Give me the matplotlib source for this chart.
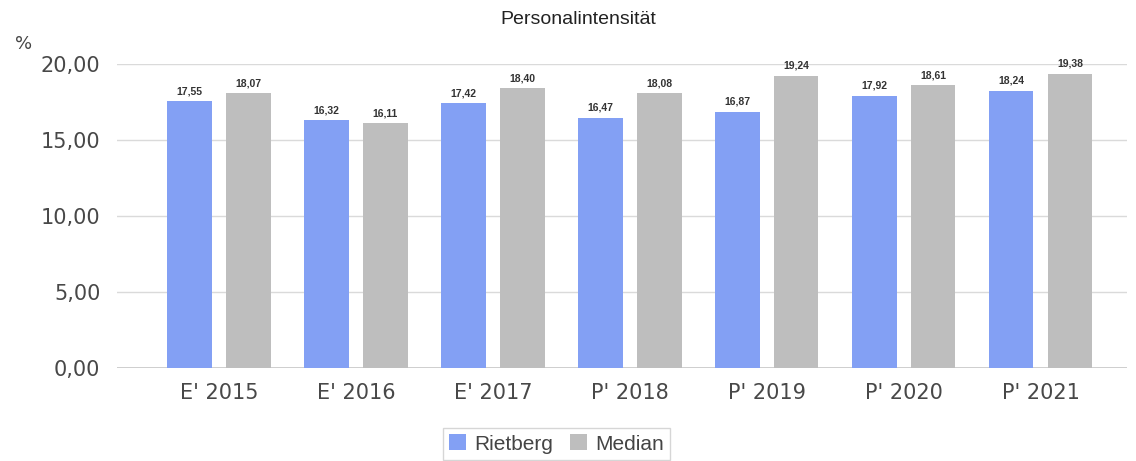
import numpy as np
import matplotlib.pyplot as plt

# --- DATA ---
categories = ["E' 2015", "E' 2016", "E' 2017", "P' 2018", "P' 2019", "P' 2020", "P' 2021"]
rietberg = [17.55, 16.32, 17.42, 16.47, 16.87, 17.92, 18.24]
median = [18.07, 16.11, 18.40, 18.08, 19.24, 18.61, 19.38]
y_ticks = [0, 5, 10, 15, 20]

BLUE = '#83a0f4'
GRAY = '#bebebe'


def de(v):
    return f'{v:.2f}'.replace('.', ',')


fig = plt.figure(figsize=(11.36, 4.61), dpi=100)
ax = fig.add_axes([0.103, 0.2017, 0.889, 0.6593])

x = np.arange(len(categories))
off, w = 0.215, 0.325
b1 = ax.bar(x - off, rietberg, w, color=BLUE, label='Rietberg', zorder=3)
b2 = ax.bar(x + off, median, w, color=GRAY, label='Median', zorder=3)

# value labels above bars
for bars, vals in ((b1, rietberg), (b2, median)):
    for rect, v in zip(bars, vals):
        ax.annotate(de(v), (rect.get_x() + rect.get_width() / 2, v),
                    xytext=(0, 3.5), textcoords='offset points',
                    ha='center', va='bottom', fontsize=7.5, fontweight='bold',
                    color='#333333', family='Liberation Sans')

ax.set_xlim(-0.745, 6.63)
ax.set_ylim(0, 20)
ax.set_yticks(y_ticks)
ax.set_yticklabels([de(t) for t in y_ticks])
ax.set_xticks(x)
ax.set_xticklabels(categories)
ax.tick_params(axis='both', length=0, labelsize=15, labelcolor='#484848')
ax.tick_params(axis='y', pad=12)
ax.tick_params(axis='x', pad=11)

ax.grid(axis='y', color='#dadada', linewidth=1, zorder=0)
for s in ax.spines.values():
    s.set_visible(False)
ax.axhline(0, color='#c8c8c8', linewidth=1.2, zorder=2)

fig.text(0.509, 0.957, 'Personalintensität', ha='center', va='center',
         fontsize=14, color='#222222', family='Liberation Sans')
fig.text(0.013, 0.905, '%', ha='left', va='center', fontsize=13, color='#444444')

leg = fig.legend(loc='center', bbox_to_anchor=(0.49, 0.037), ncol=2,
                 frameon=True, fancybox=False, handlelength=0.8, handleheight=0.8,
                 handletextpad=0.4, columnspacing=0.8, borderpad=0.3,
                 prop={'family': 'Liberation Sans', 'size': 15})
leg.get_frame().set_edgecolor('#cccccc')
leg.get_frame().set_linewidth(1)
for t in leg.get_texts():
    t.set_color('#444444')

fig.savefig('out.png', dpi=100)
